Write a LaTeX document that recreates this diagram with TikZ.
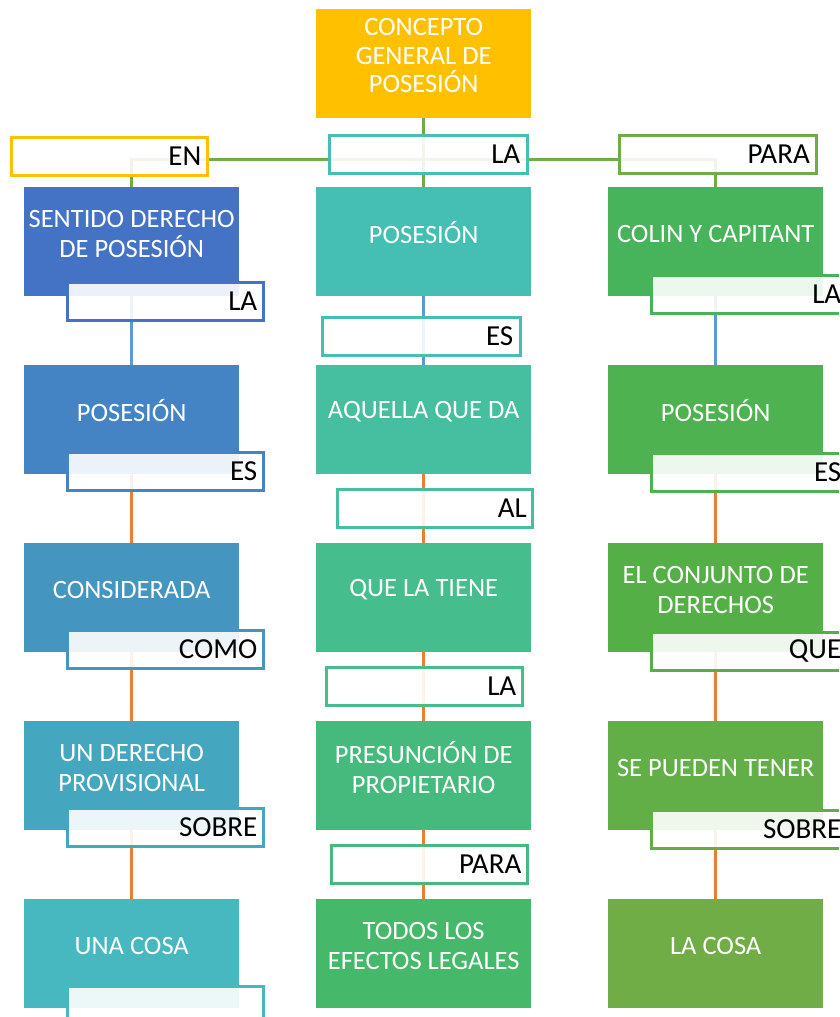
\documentclass[tikz,border=0pt]{standalone}
\usepackage{fontspec}
\setmainfont{Carlito}
\definecolor{cTop}{HTML}{FFC000}
\definecolor{cLa}{HTML}{4472C4}
\definecolor{cLb}{HTML}{4584C4}
\definecolor{cLc}{HTML}{4496C0}
\definecolor{cLd}{HTML}{45A6C0}
\definecolor{cLe}{HTML}{47B8C0}
\definecolor{cCa}{HTML}{45BFB3}
\definecolor{cCb}{HTML}{45BFA0}
\definecolor{cCc}{HTML}{45BD8C}
\definecolor{cCd}{HTML}{46BA7C}
\definecolor{cCe}{HTML}{46B86A}
\definecolor{cRa}{HTML}{47B35A}
\definecolor{cRb}{HTML}{4DB24F}
\definecolor{cRc}{HTML}{55AF47}
\definecolor{cRd}{HTML}{62AF48}
\definecolor{cRe}{HTML}{70AD47}
\definecolor{lnGreen}{HTML}{70AD47}
\definecolor{lnBlue}{HTML}{5B9BD5}
\definecolor{lnOrange}{HTML}{ED7D31}
\tikzset{
  bx/.style={draw=none, minimum width=215pt, minimum height=109pt, inner sep=0pt, fill=#1, anchor=north west},
  bt/.style={text=white, font=\fontsize{26.5}{30}\selectfont, align=center, yshift=8pt, inner sep=0pt},
  lb/.style={draw=#1, line width=2.5pt, fill=white, fill opacity=0.9, text opacity=1,
    minimum width=196pt, minimum height=38pt, inner sep=0pt, text width=184pt, align=right,
    font=\fontsize{29}{30}\selectfont, anchor=north west},
  cn/.style={line width=3pt, draw=#1},
}
\begin{document}
\begin{tikzpicture}[x=1pt,y=-1pt]
\useasboundingbox (0,0) rectangle (839,1017);
\clip (0,0) rectangle (839,1017);
% top box
\node[bx=cTop, minimum height=109pt] (top) at (316,9) {};
\node[bt, font=\fontsize{26.5}{28.5}\selectfont] (topt) at (top.center) {CONCEPTO\\GENERAL DE\\POSESIÓN};
% left column
\node[bx=cLa] (a1) at (24,187) {};
\node[bx=cLb] (a2) at (24,365) {};
\node[bx=cLc] (a3) at (24,543) {};
\node[bx=cLd] (a4) at (24,721) {};
\node[bx=cLe] (a5) at (24,899) {};
\node[bt] (a1t) at (a1.center) {SENTIDO DERECHO\\DE POSESIÓN};
\node[bt, yshift=1pt] (a2t) at (a2.center) {POSESIÓN};
\node[bt] (a3t) at (a3.center) {CONSIDERADA};
\node[bt] (a4t) at (a4.center) {UN DERECHO\\PROVISIONAL};
\node[bt] (a5t) at (a5.center) {UNA COSA};
% center column
\node[bx=cCa] (c1) at (316,187) {};
\node[bx=cCb] (c2) at (316,365) {};
\node[bx=cCc] (c3) at (316,543) {};
\node[bx=cCd] (c4) at (316,721) {};
\node[bx=cCe] (c5) at (316,899) {};
\node[bt, yshift=1pt] (c1t) at (c1.center) {POSESIÓN};
\node[bt] (c2t) at (c2.center) {AQUELLA QUE DA};
\node[bt] (c3t) at (c3.center) {QUE LA TIENE};
\node[bt] (c4t) at (c4.center) {PRESUNCIÓN DE\\PROPIETARIO};
\node[bt] (c5t) at (c5.center) {TODOS LOS\\EFECTOS LEGALES};
% right column
\node[bx=cRa] (r1) at (608,187) {};
\node[bx=cRb] (r2) at (608,365) {};
\node[bx=cRc] (r3) at (608,543) {};
\node[bx=cRd] (r4) at (608,721) {};
\node[bx=cRe] (r5) at (608,899) {};
\node[bt] (r1t) at (r1.center) {COLIN Y CAPITANT};
\node[bt, yshift=1pt] (r2t) at (r2.center) {POSESIÓN};
\node[bt] (r3t) at (r3.center) {EL CONJUNTO DE\\DERECHOS};
\node[bt] (r4t) at (r4.center) {SE PUEDEN TENER};
\node[bt] (r5t) at (r5.center) {LA COSA};
% connectors
\coordinate (hj) at (423.5,159);
\draw[cn=lnGreen] (top.south) -- (c1.north);
\draw[cn=lnGreen] (a1.north) |- (hj) -| (r1.north);
\draw[cn=lnBlue] (a1.south) -- (a2.north);
\draw[cn=lnOrange] (a2.south) -- (a3.north);
\draw[cn=lnOrange] (a3.south) -- (a4.north);
\draw[cn=lnOrange] (a4.south) -- (a5.north);
\draw[cn=lnBlue] (c1.south) -- (c2.north);
\draw[cn=lnOrange] (c2.south) -- (c3.north);
\draw[cn=lnOrange] (c3.south) -- (c4.north);
\draw[cn=lnOrange] (c4.south) -- (c5.north);
\draw[cn=lnBlue] (r1.south) -- (r2.north);
\draw[cn=lnOrange] (r2.south) -- (r3.north);
\draw[cn=lnOrange] (r3.south) -- (r4.north);
\draw[cn=lnOrange] (r4.south) -- (r5.north);
% top labels
\node[lb=cTop] (ten) at (10,136) {EN};
\node[lb=cCa, minimum width=198pt] (tla) at (328,134) {LA};
\node[lb=lnGreen, minimum width=197pt] (tpara) at (618,134) {PARA};
% left labels
\node[lb=cLa] (la1) at (66,281) {LA};
\node[lb=cLb] (la2) at (66,451) {ES};
\node[lb=cLc] (la3) at (66,629) {COMO};
\node[lb=cLd] (la4) at (66,807) {SOBRE};
\node[lb=cLe] (la5) at (66,985) {};
% center labels
\node[lb=cCa, minimum width=198pt] (lc1) at (321,316) {ES};
\node[lb=cCb, minimum width=195pt] (lc2) at (336,488) {AL};
\node[lb=cCc] (lc3) at (325,666) {LA};
\node[lb=cCd] (lc4) at (330,844) {PARA};
% right labels
\node[lb=cRa] (lr1) at (650,274) {LA};
\node[lb=cRb] (lr2) at (650,452) {ES};
\node[lb=cRc] (lr3) at (650,631) {QUE};
\node[lb=cRd] (lr4) at (650,809) {SOBRE};
\end{tikzpicture}
\end{document}
